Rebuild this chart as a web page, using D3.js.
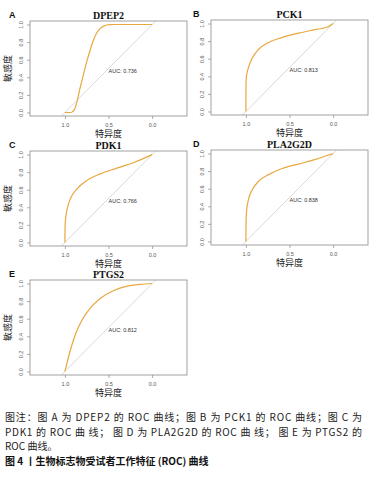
<!DOCTYPE html>
<html>
<head>
<meta charset="utf-8">
<script src="https://cdn.jsdelivr.net/npm/d3@7"></script>
<style>
  body { margin: 0; background: #fff; }
  svg { display: block; }
</style>
</head>
<body>
<script>
// ROC curves: specificity (x, reversed) and sensitivity (y)
const dpep2Spec = [1.0, 0.93, 0.89, 0.86, 0.83, 0.79, 0.75, 0.71, 0.675, 0.64, 0.60, 0.55, 0.49, 0.42, 0.0];
const dpep2Sens = [0.0, 0.0, 0.035, 0.13, 0.26, 0.42, 0.575, 0.71, 0.815, 0.895, 0.95, 0.985, 0.998, 1.0, 1.0];

const pck1Spec = [1.0, 0.999, 0.995, 0.97, 0.925, 0.85, 0.74, 0.59, 0.40, 0.21, 0.065, 0.0];
const pck1Sens = [0.0, 0.27, 0.39, 0.50, 0.61, 0.71, 0.785, 0.84, 0.89, 0.93, 0.96, 1.0];

const pdk1Spec = [1.0, 0.998, 0.992, 0.973, 0.936, 0.86, 0.746, 0.595, 0.405, 0.216, 0.064, 0.0];
const pdk1Sens = [0.0, 0.18, 0.27, 0.385, 0.50, 0.61, 0.706, 0.78, 0.845, 0.906, 0.97, 1.0];

const pla2g2dSpec = [1.0, 0.998, 0.992, 0.97, 0.925, 0.85, 0.74, 0.585, 0.40, 0.21, 0.06, 0.0];
const pla2g2dSens = [0.0, 0.22, 0.347, 0.48, 0.59, 0.69, 0.76, 0.83, 0.88, 0.93, 0.98, 1.0];

const ptgs2Spec = [1.0, 0.975, 0.935, 0.88, 0.80, 0.71, 0.595, 0.44, 0.29, 0.14, 0.0];
const ptgs2Sens = [0.0, 0.10, 0.25, 0.42, 0.59, 0.72, 0.83, 0.92, 0.97, 0.99, 1.0];

const genes = ["DPEP2", "PCK1", "PDK1", "PLA2G2D", "PTGS2"];
const letters = ["A", "B", "C", "D", "E"];
const aucs = ["0.736", "0.813", "0.766", "0.838", "0.812"];
const xTicks = [1.0, 0.5, 0.0];
const yTicks = [0, 0.2, 0.4, 0.6, 0.8, 1.0];

const captionLines = [
  "图注：图 A 为 DPEP2 的 ROC 曲线；图 B 为 PCK1 的 ROC 曲线；图 C 为",
  "PDK1 的 ROC 曲 线； 图 D 为 PLA2G2D 的 ROC 曲 线； 图 E 为 PTGS2 的",
  "ROC 曲线。"
];
const figTitle = "图 4 丨生物标志物受试者工作特征 (ROC) 曲线";

const curves = [
  [dpep2Spec, dpep2Sens],
  [pck1Spec, pck1Sens],
  [pdk1Spec, pdk1Sens],
  [pla2g2dSpec, pla2g2dSens],
  [ptgs2Spec, ptgs2Sens]
];

// panel box positions (top-left corner of plot box)
const boxes = [
  { x: 30, y: 21 },
  { x: 211, y: 20 },
  { x: 30, y: 151 },
  { x: 211, y: 150 },
  { x: 30, y: 280 }
];
const bw = 157, bh = 95;

const svg = d3.select("body").append("svg")
  .attr("width", 388)
  .attr("height", 479);

svg.append("defs").append("clipPath")
  .attr("id", "rightcol")
  .append("rect")
  .attr("x", 194).attr("y", 0).attr("width", 194).attr("height", 479);

const x = d3.scaleLinear().domain([1.4, -0.4]).range([0, bw]);
const y = d3.scaleLinear().domain([-0.04, 1.04]).range([bh, 0]);

curves.forEach((c, i) => {
  const b = boxes[i];
  const g = svg.append("g").attr("transform", "translate(" + b.x + "," + b.y + ")");

  // clip for plot area
  const cid = "clip" + i;
  g.append("clipPath").attr("id", cid)
    .append("rect").attr("width", bw).attr("height", bh);

  // chance diagonal
  g.append("line")
    .attr("clip-path", "url(#" + cid + ")")
    .attr("x1", x(1.04)).attr("y1", y(-0.04))
    .attr("x2", x(-0.04)).attr("y2", y(1.04))
    .attr("stroke", "#cfcfcf")
    .attr("stroke-width", 0.8);

  // ROC curve
  const pts = c[0].map((s, k) => [s, c[1][k]]);
  g.append("path")
    .datum(pts)
    .attr("fill", "none")
    .attr("stroke", "#E9A73F")
    .attr("stroke-width", 1.2)
    .attr("d", d3.line()
      .x(d => x(d[0]))
      .y(d => y(d[1]))
      .curve(d3.curveMonotoneX));

  // box
  g.append("rect")
    .attr("width", bw).attr("height", bh)
    .attr("fill", "none")
    .attr("stroke", "#8a8a8a")
    .attr("stroke-width", 0.8);

  // x axis
  const xa = g.append("g")
    .attr("transform", "translate(0," + bh + ")")
    .call(d3.axisBottom(x).tickValues(xTicks).tickSize(3).tickFormat(d3.format(".1f")));
  xa.select(".domain").remove();
  xa.selectAll("line").attr("stroke", "#8a8a8a").attr("stroke-width", 0.7);
  xa.selectAll("text")
    .attr("y", 11).attr("dy", 0)
    .attr("font-size", 5.5)
    .attr("font-family", "Liberation Sans, Arial, sans-serif")
    .attr("fill", "#555");

  // y axis
  const ya = g.append("g")
    .call(d3.axisLeft(y).tickValues(yTicks).tickSize(3).tickFormat(d3.format(".1f")));
  ya.select(".domain").remove();
  ya.selectAll("line").attr("stroke", "#8a8a8a").attr("stroke-width", 0.7);
  ya.selectAll("text")
    .attr("transform", "rotate(-90)")
    .attr("x", 0).attr("y", -7).attr("dy", 0)
    .attr("text-anchor", "middle")
    .attr("font-size", 5.5)
    .attr("font-family", "Liberation Sans, Arial, sans-serif")
    .attr("fill", "#555");

  // AUC text
  g.append("text")
    .attr("x", x(0.5)).attr("y", y(0.5) + 4)
    .attr("font-size", 5.5)
    .attr("font-family", "Liberation Sans, Arial, sans-serif")
    .attr("fill", "#333")
    .text("AUC: " + aucs[i]);

  // title
  g.append("text")
    .attr("x", bw / 2).attr("y", -2)
    .attr("text-anchor", "middle")
    .attr("font-size", 10)
    .attr("font-weight", "bold")
    .attr("font-family", "Liberation Serif, DejaVu Serif, serif")
    .attr("fill", "#111")
    .text(genes[i]);

  // panel letter
  svg.append("text")
    .attr("x", b.x < 100 ? 9 : 193)
    .attr("y", b.y - 3)
    .attr("font-size", 9)
    .attr("font-weight", "bold")
    .attr("font-family", "Liberation Sans, Arial, sans-serif")
    .attr("fill", "#111")
    .text(letters[i]);

  // x axis label
  g.append("text")
    .attr("x", x(0.5)).attr("y", bh + 21)
    .attr("text-anchor", "middle")
    .attr("font-size", 9)
    .attr("font-family", "Noto Sans CJK SC, sans-serif")
    .attr("fill", "#222")
    .text("特异度");

  // y axis label
  const yl = svg.append("text")
    .attr("transform", "translate(" + (b.x < 100 ? 11 : 198) + "," + (b.y + bh / 2) + ") rotate(-90)")
    .attr("text-anchor", "middle")
    .attr("font-size", 9)
    .attr("font-family", "Noto Sans CJK SC, sans-serif")
    .attr("fill", "#222")
    .text("敏感度");
  if (b.x > 100) yl.attr("clip-path", "url(#rightcol)");
});

// caption
const cap = svg.append("g")
  .attr("font-family", "Noto Sans CJK SC, sans-serif")
  .attr("font-size", 10)
  .attr("fill", "#222");

captionLines.forEach((t, i) => {
  const tx = cap.append("text")
    .attr("x", 5)
    .attr("y", 421 + i * 14.6)
    .text(t);
  if (i < 2) tx.attr("textLength", 357).attr("lengthAdjust", "spacing");
});

cap.append("text")
  .attr("x", 5)
  .attr("y", 465)
  .attr("font-weight", "bold")
  .attr("fill", "#111")
  .text(figTitle);
</script>
</body>
</html>
